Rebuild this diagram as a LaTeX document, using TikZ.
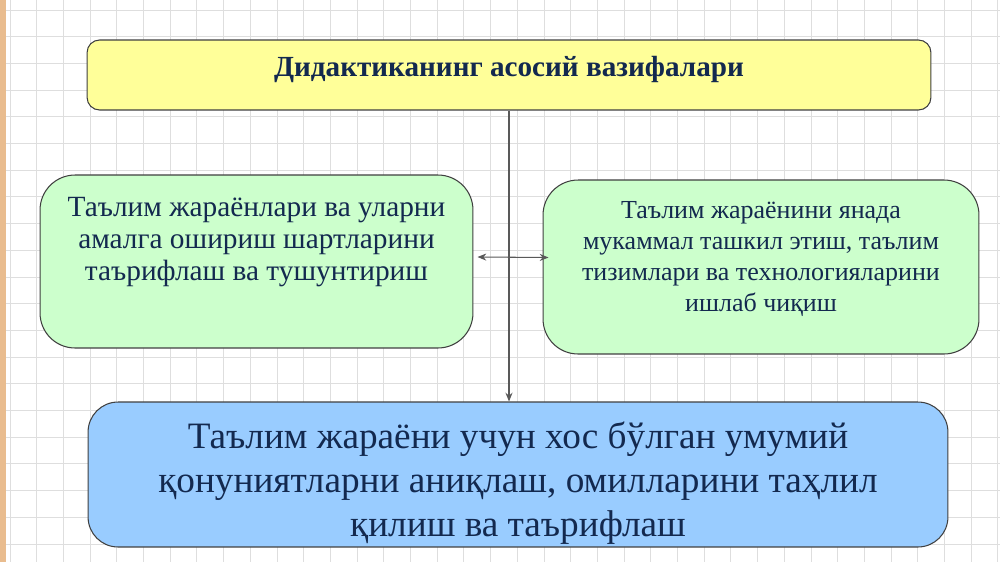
\documentclass[tikz,border=0pt]{standalone}
\usepackage{fontspec}
\setmainfont{Liberation Serif}
\usepackage{tikz}
\usetikzlibrary{calc,arrows.meta}
\definecolor{boxyellow}{HTML}{FFFF99}
\definecolor{boxgreen}{HTML}{CCFFCC}
\definecolor{boxblue}{HTML}{99CCFF}
\definecolor{txtnavy}{HTML}{13294F}
\definecolor{gridgray}{HTML}{DEDEDE}
\definecolor{stripe}{HTML}{E9BC8E}

\begin{document}
\begin{tikzpicture}[x=0.02cm, y=-0.02cm,
    box/.style={draw=black!75, line width=0.6pt, rounded corners=0.7cm, inner sep=0pt},
    txt/.style={text=txtnavy, align=center},
    link/.style={draw=black!65, line width=0.6pt, -{Stealth[length=5pt,width=4pt]}}]
    \useasboundingbox (0,0) rectangle (1000,562);
    \fill[white] (0,0) rectangle (1000,562);
    % squared paper
    \foreach \x in {10,36.7,...,1000}
        \draw[gridgray, line width=0.5pt] (\x,0) -- (\x,562);
    \foreach \y in {10,36.7,...,562}
        \draw[gridgray, line width=0.5pt] (0,\y) -- (1000,\y);
    \fill[stripe] (0,0) rectangle (6,562);

    \node[box, rounded corners=0.25cm, fill=boxyellow, minimum width=16.88cm, minimum height=1.4cm] (top) at (509,75) {};
    \node[box, fill=boxgreen, minimum width=8.66cm, minimum height=3.46cm] (left) at (256.5,261.5) {};
    \node[box, fill=boxgreen, minimum width=8.72cm, minimum height=3.48cm] (right) at (761,267) {};
    \node[box, rounded corners=0.6cm, fill=boxblue, minimum width=17.2cm, minimum height=2.9cm] (bottom) at (518,474.5) {};

    \node[txt, font=\fontsize{16.6}{19}\selectfont\bfseries] (toptxt) at ([yshift=0.12cm]top.center)
        {Дидактиканинг асосий вазифалари};
    \node[txt, font=\fontsize{16.7}{18.2}\selectfont] (lefttxt) at ([yshift=0.39cm]left.center)
        {Таълим жараёнлари ва уларни\\амалга ошириш шартларини\\таърифлаш ва тушунтириш};
    \node[txt, font=\fontsize{14.8}{17.8}\selectfont] (righttxt) at ([yshift=0.16cm]right.center)
        {Таълим жараёнини янада\\мукаммал ташкил этиш, таълим\\тизимлари ва технологияларини\\ишлаб чиқиш};
    \node[txt, font=\fontsize{21.2}{25}\selectfont] (bottomtxt) at ([yshift=-0.17cm]bottom.center)
        {Таълим жараёни учун хос бўлган умумий\\қонуниятларни аниқлаш, омилларини таҳлил\\қилиш ва таърифлаш};

    \draw[link] (top.south) -- (top.south |- bottom.north);
    \draw[link, {Stealth[length=5pt,width=4pt]}-{Stealth[length=5pt,width=4pt]}]
        ($(left.east)+(4,-4.5)$) -- ($(right.west)+(6,-9.5)$);
\end{tikzpicture}
\end{document}
